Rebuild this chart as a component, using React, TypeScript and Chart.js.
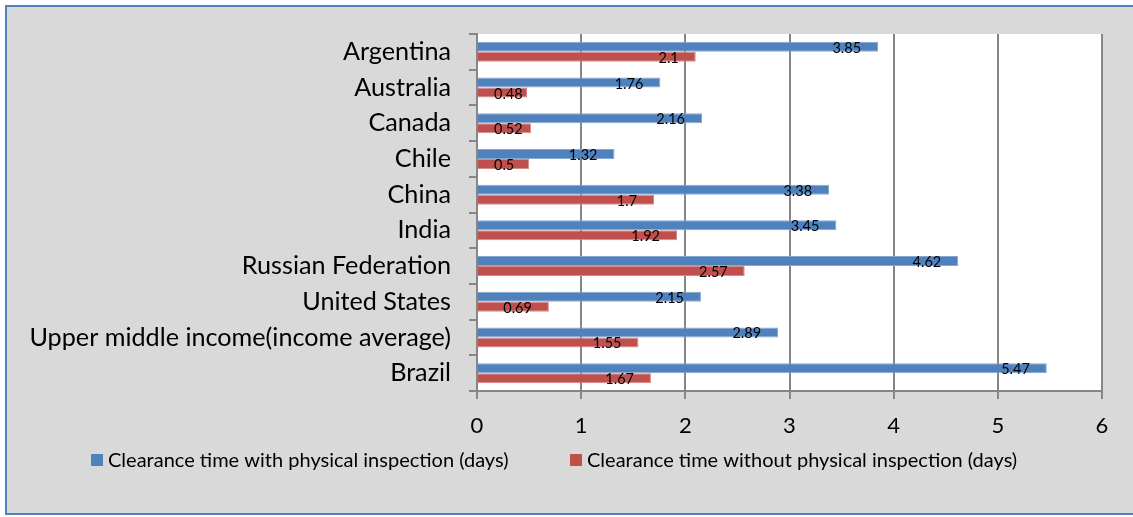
import React, { useEffect, useRef } from 'react';
import { Chart, registerables } from 'chart.js';

Chart.register(...registerables);

const categories = [
  'Argentina',
  'Australia',
  'Canada',
  'Chile',
  'China',
  'India',
  'Russian Federation',
  'United States',
  'Upper middle income(income average)',
  'Brazil',
];
const withInspection = [3.85, 1.76, 2.16, 1.32, 3.38, 3.45, 4.62, 2.15, 2.89, 5.47];
const withoutInspection = [2.1, 0.48, 0.52, 0.5, 1.7, 1.92, 2.57, 0.69, 1.55, 1.67];
const seriesLabels = [
  'Clearance time with physical inspection (days)',
  'Clearance time without physical inspection (days)',
];
const axisMin = 0;
const axisMax = 6;
const axisStep = 1;

const FONT = 'Lato, "Open Sans", sans-serif';
const BLUE = '#4f81bd';
const RED = '#c0504d';
const GRID = '#868686';

// White plot area on the grey chart background
const plotBackground = {
  id: 'plotBackground',
  beforeDraw(chart: any) {
    const { ctx, chartArea } = chart;
    ctx.save();
    ctx.fillStyle = '#ffffff';
    ctx.fillRect(chartArea.left, chartArea.top, chartArea.right - chartArea.left, chartArea.bottom - chartArea.top);
    ctx.restore();
  },
};

// Value labels placed inside the end of each bar
const valueLabels = {
  id: 'valueLabels',
  afterDatasetsDraw(chart: any) {
    const { ctx } = chart;
    ctx.save();
    ctx.font = `14.5px ${FONT}`;
    ctx.fillStyle = '#000000';
    ctx.textAlign = 'left';
    ctx.textBaseline = 'alphabetic';
    chart.data.datasets.forEach((ds: any, di: number) => {
      const meta = chart.getDatasetMeta(di);
      meta.data.forEach((bar: any, i: number) => {
        const text = String(ds.data[i]);
        const w = ctx.measureText(text).width;
        const left = Math.max(bar.x - 17 - w, bar.base + 16);
        ctx.fillText(text, left, bar.y + bar.height / 2 + 1);
      });
    });
    ctx.restore();
  },
};

// Legend row under the axis
const legendRow = {
  id: 'legendRow',
  afterDraw(chart: any) {
    const { ctx } = chart;
    const starts = [91, 570];
    ctx.save();
    ctx.font = `20px ${FONT}`;
    ctx.textAlign = 'left';
    ctx.textBaseline = 'alphabetic';
    chart.data.datasets.forEach((ds: any, di: number) => {
      const x = starts[di];
      ctx.fillStyle = ds.backgroundColor;
      ctx.fillRect(x, 454, 12, 12);
      ctx.fillStyle = '#000000';
      ctx.fillText(ds.label, x + 17, 466.5);
    });
    ctx.restore();
  },
};

export default function App() {
  const canvasRef = useRef<HTMLCanvasElement | null>(null);

  useEffect(() => {
    const canvas = canvasRef.current;
    if (!canvas) return;
    const chart = new Chart(canvas, {
      type: 'bar',
      data: {
        labels: categories,
        datasets: [
          {
            label: seriesLabels[0],
            data: withInspection,
            backgroundColor: BLUE,
            borderColor: '#86a7d2',
            borderWidth: 1,
          },
          {
            label: seriesLabels[1],
            data: withoutInspection,
            backgroundColor: RED,
            borderColor: '#d68a88',
            borderWidth: 1,
          },
        ],
      },
      options: {
        indexAxis: 'y',
        responsive: false,
        animation: false,
        devicePixelRatio: 1,
        layout: { padding: { top: 34, right: 31, left: 0, bottom: 0 } },
        datasets: {
          bar: { categoryPercentage: 0.56, barPercentage: 1 },
        },
        plugins: {
          legend: { display: false },
          tooltip: { enabled: false },
          title: { display: false },
        },
        scales: {
          x: {
            type: 'linear',
            position: 'bottom',
            min: axisMin,
            max: axisMax,
            ticks: {
              stepSize: axisStep,
              color: '#000000',
              font: { family: FONT, size: 22 },
              padding: 14,
            },
            grid: {
              color: GRID,
              lineWidth: 2,
              tickLength: 8,
              drawOnChartArea: true,
              drawTicks: true,
            },
            border: { display: true, color: GRID, width: 2 },
            afterFit(scale: any) {
              scale.height = 126;
            },
          },
          y: {
            type: 'category',
            position: 'left',
            ticks: {
              color: '#000000',
              font: { family: FONT, size: 25.2 },
              padding: 18,
            },
            grid: {
              color: GRID,
              lineWidth: 2,
              tickLength: 8,
              drawOnChartArea: false,
              drawTicks: true,
              offset: true,
            },
            border: { display: true, color: GRID, width: 2 },
            afterFit(scale: any) {
              scale.width = 477;
            },
          },
        },
      },
      plugins: [plotBackground, valueLabels, legendRow],
    });
    return () => chart.destroy();
  }, []);

  return (
    <div style={{ position: 'fixed', left: 0, top: 0, width: 1133, height: 517, background: '#ffffff', overflow: 'hidden' }}>
      <div
        style={{
          position: 'absolute',
          left: 5,
          top: 5,
          width: 1140,
          height: 510,
          boxSizing: 'border-box',
          background: '#d9d9d9',
          borderTop: '2px solid #4f81bd',
          borderLeft: '2px solid #4f81bd',
          borderBottom: '2px solid #4f81bd',
        }}
      />
      <canvas ref={canvasRef} width={1133} height={517} style={{ position: 'absolute', left: 0, top: 0 }} />
    </div>
  );
}
